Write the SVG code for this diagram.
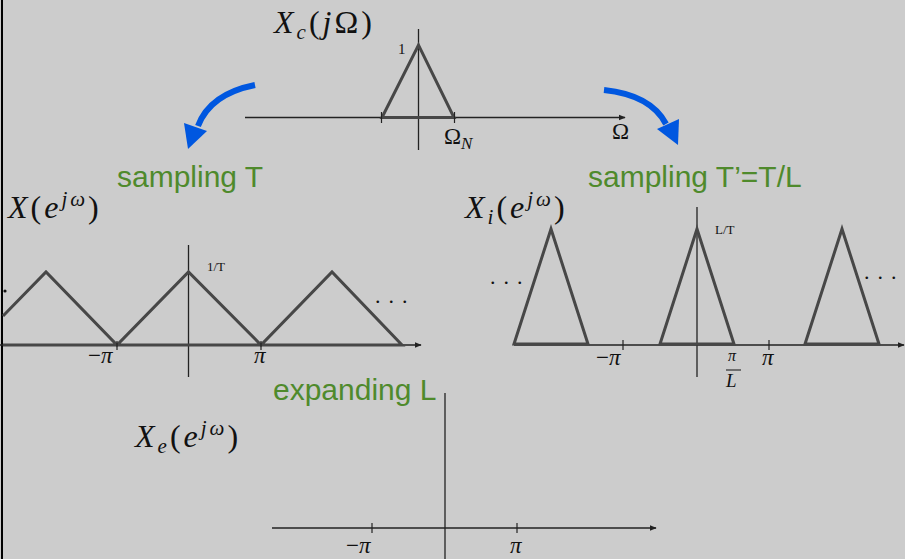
<svg xmlns="http://www.w3.org/2000/svg" width="905" height="559" viewBox="0 0 905 559">
<defs>
<style>
.math{font-family:"Liberation Serif","DejaVu Serif",serif;fill:#111}
.it{font-style:italic}
.big{font-size:32px;letter-spacing:3px}
.lbl{font-family:"Liberation Sans",Arial,sans-serif;font-size:30px;fill:#4f8a2c}
.ax{stroke:#222;stroke-width:1.3;fill:none}
.tri{stroke:#474747;stroke-width:3;fill:none;stroke-linejoin:miter}
.tick{stroke:#222;stroke-width:1.2}
.blue{stroke:#0057e0;stroke-width:6;fill:none}
.dots{font-size:22px;letter-spacing:8px}
</style>
<marker id="ah" viewBox="0 0 10 10" refX="9" refY="5" markerWidth="7" markerHeight="7" markerUnits="userSpaceOnUse" orient="auto"><path d="M0,1 L10,5 L0,9 z" fill="#222"/></marker>
</defs>
<rect x="0" y="0" width="905" height="559" fill="#cccccc"/>
<line x1="2" y1="0" x2="2" y2="559" stroke="#000" stroke-width="2"/>

<g id="top-graph">
<line class="ax" x1="245" y1="117.5" x2="625" y2="117.5" marker-end="url(#ah)"/>
<line class="ax" x1="418.5" y1="29" x2="418.5" y2="150"/>
<path class="tri" d="M382,117.5 L418.5,45 L454,117.5 Z"/>
<line class="tick" x1="381.5" y1="112" x2="381.5" y2="123"/>
<line class="tick" x1="454.5" y1="112" x2="454.5" y2="123"/>
<text class="math" x="398" y="54" font-size="15">1</text>
<text class="math" x="444" y="144" font-size="23">Ω<tspan class="it" font-size="17" dy="5">N</tspan></text>
<text class="math" x="612" y="139" font-size="23">Ω</text>
<text class="math big" x="274" y="33"><tspan class="it">X</tspan><tspan class="it" font-size="21" dy="6">c</tspan><tspan dy="-6">(</tspan><tspan class="it">j</tspan>Ω)</text>
</g>

<g id="connectors">
<path class="blue" d="M255,85 Q210,94 198,126"/>
<path d="M188,149 L184,123 L207,131 Z" fill="#0057e0"/>
<path class="blue" d="M604,90 Q651,95 666,124"/>
<path d="M678,145 L657,129 L679,119 Z" fill="#0057e0"/>
</g>

<g id="label-sampling-T">
<text class="lbl" x="117" y="187">sampling T</text>
</g>
<g id="label-sampling-TL">
<text class="lbl" x="588" y="187">sampling T’=T/L</text>
</g>
<g id="label-expanding">
<text class="lbl" x="273" y="400">expanding L</text>
</g>

<g id="left-graph">
<line class="ax" x1="0" y1="345" x2="421" y2="345" marker-end="url(#ah)"/>
<line class="ax" x1="188.5" y1="245" x2="188.5" y2="377"/>
<path class="tri" d="M3,316 L46,272 L117,345 L188.5,272 L261,345 L332,272 L402,345 L3,345"/>
<line class="tick" x1="117" y1="341" x2="117" y2="350"/>
<line class="tick" x1="261" y1="341" x2="261" y2="350"/>
<text class="math" x="207" y="271" font-size="13">1/T</text>
<text class="math" x="88" y="363" font-size="23">−<tspan class="it">π</tspan></text>
<text class="math it" x="254" y="363" font-size="23">π</text>
<text class="math dots" x="375" y="303">...</text>
<circle cx="5" cy="291" r="1.6" fill="#111"/>
<text class="math big" x="8" y="218"><tspan class="it">X</tspan>(<tspan class="it">e</tspan><tspan class="it" font-size="21" dy="-12">jω</tspan><tspan dy="12">)</tspan></text>
</g>

<g id="right-graph">
<line class="ax" x1="514" y1="345" x2="904" y2="345" marker-end="url(#ah)"/>
<line class="ax" x1="697" y1="207" x2="697" y2="377"/>
<path class="tri" d="M514,344 L551,229 L588,344 Z"/>
<path class="tri" d="M660,344 L697,229 L734,344 Z"/>
<path class="tri" d="M805,344 L842,229 L879,344 Z"/>
<line class="tick" x1="623" y1="340" x2="623" y2="350"/>
<line class="tick" x1="769" y1="340" x2="769" y2="350"/>
<text class="math" x="715" y="234" font-size="13">L/T</text>
<text class="math" x="596" y="365" font-size="23">−<tspan class="it">π</tspan></text>
<text class="math it" x="762" y="365" font-size="23">π</text>
<text class="math it" x="728" y="361" font-size="16">π</text>
<line x1="726" y1="370" x2="741" y2="370" stroke="#111" stroke-width="1"/>
<text class="math it" x="726" y="387" font-size="19">L</text>
<text class="math dots" x="490" y="284">...</text>
<text class="math dots" x="864" y="279">...</text>
<text class="math big" x="465" y="218"><tspan class="it">X</tspan><tspan class="it" font-size="21" dy="6">i</tspan><tspan dy="-6">(</tspan><tspan class="it">e</tspan><tspan class="it" font-size="21" dy="-12">jω</tspan><tspan dy="12">)</tspan></text>
</g>

<g id="bottom-graph">
<line class="ax" x1="272" y1="528" x2="656" y2="528" marker-end="url(#ah)"/>
<line class="ax" x1="445" y1="393" x2="445" y2="559"/>
<line class="tick" x1="372" y1="523" x2="372" y2="533"/>
<line class="tick" x1="517" y1="523" x2="517" y2="533"/>
<text class="math" x="346" y="553" font-size="23">−<tspan class="it">π</tspan></text>
<text class="math it" x="510" y="553" font-size="23">π</text>
<text class="math big" x="135" y="447"><tspan class="it">X</tspan><tspan class="it" font-size="21" dy="6">e</tspan><tspan dy="-6">(</tspan><tspan class="it">e</tspan><tspan class="it" font-size="21" dy="-12">jω</tspan><tspan dy="12">)</tspan></text>
</g>
</svg>
